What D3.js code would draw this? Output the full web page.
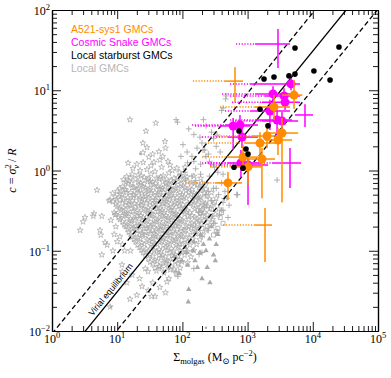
<!DOCTYPE html>
<html>
<head>
<meta charset="utf-8">
<script src="https://cdn.jsdelivr.net/npm/d3@7"></script>
<style>
body { margin: 0; background: #fff; }
svg { display: block; }
.axis path { stroke: #000; stroke-width: 1.2; }
.axis line { stroke: #000; stroke-width: 0.9; }
.serif { font-family: "Liberation Serif", "DejaVu Serif", serif; }
</style>
</head>
<body>
<div id="chart"></div>
<script>
// local GMCs: [sigma_molgas, c]
var localStars = [
  [14,0.84],[17,0.9],[21,0.88],[26,0.82],[33,0.9],[40,0.8],[51,0.86],[62,0.93],[74,0.8],[96,0.87],[118,0.83],
  [12.5,0.77],[15,0.74],[19,0.78],[23,0.7],[29,0.76],[35,0.72],[44,0.79],[56,0.7],[67,0.75],[86,0.72],[104,0.77],[138,0.7],
  [12,0.63],[14.5,0.68],[18,0.62],[22,0.66],[27,0.6],[33,0.67],[42,0.64],[49,0.6],[64,0.66],[79,0.61],[101,0.64],[128,0.6],[168,0.66],
  [10,0.55],[13,0.58],[16,0.53],[20,0.57],[24,0.52],[31,0.56],[38,0.53],[46,0.58],[59,0.54],[71,0.57],[92,0.53],[114,0.56],[152,0.52],[196,0.57],
  [9.3,0.47],[11.8,0.5],[14.5,0.46],[18,0.49],[22.5,0.45],[28,0.48],[35,0.46],[44,0.5],[54,0.45],[66,0.49],[83,0.46],[106,0.47],[134,0.5],[178,0.45],[235,0.48],
  [8.6,0.41],[11,0.43],[13.5,0.4],[17,0.42],[21,0.39],[26,0.43],[32,0.4],[40,0.42],[50,0.39],[62,0.43],[77,0.4],[96,0.42],[124,0.39],[158,0.42],[205,0.4],
  [10,0.36],[12.5,0.34],[15.5,0.37],[19,0.35],[24,0.37],[30,0.34],[37,0.36],[46,0.34],[57,0.37],[70,0.35],[88,0.36],[110,0.34],[145,0.37],[188,0.35],[245,0.36],
  [9,0.3],[11.5,0.32],[14,0.29],[17.5,0.31],[22,0.3],[27,0.32],[34,0.29],[42,0.31],[52,0.3],[65,0.32],[80,0.29],[100,0.31],[130,0.3],[170,0.32],[218,0.3],
  [10.5,0.26],[13,0.28],[16,0.25],[20,0.27],[25,0.26],[31,0.28],[39,0.25],[48,0.27],[60,0.26],[74,0.28],[92,0.25],[120,0.27],[155,0.26],[200,0.27],
  [12,0.23],[15,0.22],[18.5,0.24],[23,0.22],[28,0.235],[35,0.215],[44,0.23],[55,0.22],[68,0.24],[85,0.22],[105,0.23],[140,0.22],[180,0.235],
  [13.5,0.2],[17,0.19],[21,0.205],[26,0.19],[32,0.2],[40,0.185],[50,0.2],[62,0.19],[78,0.205],[96,0.19],[125,0.2],[160,0.19],
  [15,0.17],[19,0.18],[24,0.165],[30,0.175],[37,0.165],[46,0.18],[57,0.17],[71,0.175],[88,0.165],[110,0.18],[145,0.17],
  [17,0.15],[21,0.145],[27,0.155],[34,0.14],[42,0.15],[52,0.145],[65,0.155],[80,0.14],[100,0.15],[130,0.145],
  [19,0.13],[24,0.125],[31,0.132],[38,0.122],[48,0.13],[60,0.124],[74,0.133],[92,0.122],[120,0.128],
  [22,0.11],[28,0.105],[35,0.113],[44,0.104],[55,0.11],[68,0.106],[85,0.112],[110,0.104],
  [25,0.095],[32,0.09],[40,0.097],[50,0.088],[63,0.094],[78,0.089],[98,0.096],
  [30,0.08],[38,0.076],[47,0.082],[58,0.075],[72,0.08],[90,0.077],
  [35,0.068],[44,0.064],[55,0.07],[68,0.063],[85,0.069],
  [40,0.056],[52,0.053],[65,0.058],[80,0.052],
  [16,0.81],[23.5,0.85],[30,0.79],[46,0.83],[57,0.78],[85,0.82],[108,0.79],[150,0.85],[190,0.8],
  [13.5,0.71],[16.5,0.69],[21,0.72],[26,0.68],[32,0.73],[39,0.69],[50,0.72],[61,0.68],[75,0.71],[95,0.68],[120,0.72],[155,0.69],[200,0.7],
  [11,0.6],[13.5,0.57],[17,0.61],[21,0.59],[25,0.62],[30,0.58],[36,0.61],[44,0.59],[54,0.62],[66,0.58],[85,0.6],[108,0.61],[140,0.58],[180,0.61],[230,0.59],
  [8.5,0.52],[11,0.51],[14,0.53],[17.5,0.5],[21.5,0.53],[27,0.51],[33,0.52],[41,0.5],[51,0.53],[63,0.51],[77,0.52],[98,0.5],[125,0.53],[165,0.5],[215,0.52],[280,0.53],
  [9.8,0.44],[12.3,0.45],[15.5,0.43],[19.5,0.46],[24,0.44],[30,0.45],[38,0.43],[47,0.46],[58,0.44],[72,0.45],[90,0.43],[115,0.45],[145,0.44],[190,0.46],[260,0.44],[330,0.45],
  [9.5,0.38],[12,0.39],[14.8,0.375],[18.5,0.385],[23,0.37],[28,0.39],[35,0.38],[43,0.375],[53,0.39],[66,0.38],[82,0.385],[102,0.375],[135,0.39],[172,0.38],[225,0.39],[300,0.38],
  [10.8,0.33],[13.4,0.325],[16.5,0.335],[20.5,0.32],[25.5,0.33],[32,0.325],[40,0.335],[49,0.32],[61,0.33],[75,0.325],[94,0.335],[118,0.32],[155,0.33],[200,0.325],[265,0.335],[360,0.33],
  [9.6,0.285],[12,0.275],[15,0.29],[18.5,0.28],[23,0.275],[29,0.29],[36,0.28],[45,0.285],[56,0.275],[69,0.29],[86,0.28],[108,0.285],[140,0.275],[185,0.29],[240,0.28],[320,0.285],
  [11,0.245],[14,0.25],[17,0.24],[21.5,0.25],[26.5,0.245],[33,0.25],[41,0.24],[51,0.25],[63,0.245],[79,0.25],[98,0.24],[125,0.245],[165,0.25],[215,0.24],[290,0.245],
  [12.8,0.21],[16,0.215],[19.5,0.205],[24.5,0.215],[30,0.21],[37,0.215],[47,0.205],[58,0.215],[72,0.21],[90,0.215],[115,0.205],[150,0.21],[195,0.215],[260,0.21],
  [14.5,0.185],[18,0.19],[22.5,0.18],[28,0.19],[35,0.18],[43,0.19],[54,0.18],[66,0.19],[83,0.185],[104,0.18],[135,0.19],[175,0.185],[230,0.18],
  [16,0.16],[20,0.162],[25,0.158],[32,0.163],[39,0.157],[49,0.162],[61,0.158],[76,0.163],[95,0.157],[120,0.16],[160,0.163],[205,0.158],
  [18,0.138],[22.5,0.14],[29,0.136],[36,0.141],[45,0.137],[56,0.14],[70,0.136],[87,0.141],[110,0.137],[145,0.14],[185,0.137],
  [20.5,0.118],[26,0.12],[33,0.117],[41,0.121],[51,0.117],[64,0.12],[80,0.117],[100,0.121],[130,0.118],[165,0.12],
  [16,0.1],[23.5,0.102],[30,0.099],[37,0.101],[47,0.098],[58,0.102],[73,0.099],[92,0.1],[120,0.098],[150,0.101],
  [27,0.087],[35,0.085],[44,0.088],[55,0.084],[69,0.087],[85,0.085],[108,0.088],[135,0.084],
  [32,0.072],[41,0.074],[51,0.071],[62,0.074],[78,0.072],[98,0.073],[120,0.071],
  [38,0.061],[48,0.06],[60,0.062],[74,0.059],[92,0.061],
  [15.7,4.3],[39,3.9],[27.6,3.1],[54,2.3],[24.8,2.2],[28.6,1.94],[43.6,1.72],[24.8,1.67],[30.6,1.47],[14.7,1.24],
  [20,1.2],[25,1.26],[36.6,1.27],[45,1.35],[17.4,1.06],[22.4,1.0],[28.6,1.03],[38,0.97],[64.5,1.17],[82,1.07],
  [50,1.5],[60,1.3],[70,1.0],[35,1.6],[55,1.9],[90,0.95],[110,1.1],[48,1.1],[33,1.15],
  [4.9,0.57],[7.8,0.43],[5.8,0.27],[9.3,0.28],[4.3,0.27],[3.2,0.26],[2.7,0.18],[3.0,0.23],[4.4,0.29],[5.45,0.18],
  [5.6,0.157],[7.5,0.42],[7.0,0.118],[6.5,0.127],[5.8,0.089],[8.6,0.1],[9.5,0.2],[11,0.15],[8,0.24],[12,0.12],[10,0.13],[13,0.1],[9,0.16],
  [15.7,0.025],[7.8,0.02],[11.8,0.067],[24,0.036],[20,0.028],[33.6,0.027],[38,0.027],[29.6,0.055],[58,0.041],[45,0.064],
  [17,0.05],[14,0.04],[22,0.045],[27,0.06],[12,0.055],[35,0.04],[30,0.032],[45,0.035],[55,0.03],[62,0.045]
];
var localPlus = [
  [80,4.3],[84,4.0],[102,2.1],[118,1.7],[140,1.5],[168,1.9],[186,2.6],[200,2.2],[220,1.8],[250,1.6],
  [150,2.8],[125,3.3],[470,8.5],[460,7.8],[420,6.0],[400,5.6],[210,4.3],[230,3.6],[280,3.0],[300,2.5],
  [330,2.0],[380,1.7],[260,1.3],[310,1.1],[350,0.95],[420,0.9],[700,0.5],[2830,0.76],[190,1.2],[160,1.05],
  [120,1.25],[95,1.5],[110,0.95],[140,0.85],[240,0.7],[300,0.6],[360,0.5],[420,0.4],[300,0.22],[250,0.18],
  [200,0.15],[180,0.09],[150,0.06],[80,0.055],[85,0.048],[230,0.25],[520,0.37],[480,0.45],[316,0.22],[420,0.32],
  [200,0.095],[340,0.17],[207,1.8],[340,2.77],[680,0.5],[400,0.32],
  [160,0.75],[200,0.62],[250,0.55],[180,0.45],[280,0.42],[230,0.5],[330,0.6],[260,0.85],[190,0.9],[400,0.7],
  [450,0.55],[370,0.28],[220,0.35],[290,0.27],[180,0.3],[500,0.26],[440,0.45],[150,1.3],[230,1.5],[280,1.2]
];
var localTri = [
  [125,0.033],[123,0.023],[265,0.04],[300,0.089],[156,0.075],[120,0.066],[98,0.075],[117,0.095],[145,0.1],[186,0.095],
  [230,0.1],[170,0.062],[210,0.12],[260,0.14],[330,0.12],[190,0.16],[150,0.13],[280,0.2],[350,0.16],[90,0.052],
  [240,0.062],[200,0.045],[320,0.075],[110,0.11],[75,0.085]
];
var localSquare = [
  [222,0.37],[300,0.157],[350,0.19],[330,0.175],[260,0.25],[400,0.3],[190,0.3],[240,0.2],[280,0.33],[170,0.22],[420,0.22],
  [380,0.26],[310,0.4],[200,0.19]
];
var localDot = [[22.5,1.62],[8,0.02],[230,0.011]];

// local starburst GMCs
var starburst = [
  [5330,33.6],[25200,34.6],[1785,13.8],[2540,14.6],[4310,15.1],[5330,15.9],[10400,17.4],[18400,13.4],
  [1550,5.8],[2050,3.6],[738,3.1],[945,1.85],[1015,1.6],[618,1.1],[850,1.07]
];

// columns: sigma, c, sigma low (solid), sigma high, sigma low (dotted, null = none), c low, c high
var a521 = [
  [5150,8.7,3370,6900,null,5.9,13.4],
  [2540,6.2,1300,4470,377,4.26,8.7],
  [3370,2.93,2060,5950,null,0.4,4.5],
  [1985,2.69,1170,3370,316,1.91,3.69],
  [1550,2.2,912,2630,222,1.35,3.0],
  [2925,2.4,1850,4800,null,1.56,3.4],
  [850,1.47,500,1445,200,1.01,2.08],
  [1660,1.39,1015,2630,null,0.45,1.91],
  [1015,1.11,641,1660,265,0.66,1.56],
  [500,0.7,316,820,110,0.429,0.96]
];
var a521Open = [
  [641,13.0,450,850,145,7.1,19.4],
  [1850,0.209,1300,2370,420,0.0724,0.341]
];
var snake = [
  [4630,12.0,1090,6360,537,10.0,14.2],
  [2450,9.0,1300,4470,405,6.7,11.2],
  [3620,8.5,1850,6360,537,6.35,10.6],
  [3750,7.1,1660,6360,575,5.67,8.5],
  [2200,5.5,1090,4470,450,3.2,7.6],
  [2830,4.26,1300,4800,537,2.77,5.67],
  [3370,4.14,1660,5950,641,3.2,5.35],
  [764,3.69,450,1445,140,2.4,4.92],
  [600,3.59,377,1090,156,1.8,4.5],
  [820,2.61,500,1445,200,1.91,3.4],
  [790,1.24,500,1660,200,0.81,1.8],
  [1015,1.17,641,2060,265,0.372,1.56]
];
var snakeOpen = [
  [2925,37.7,1300,4470,665,18.9,57.9],
  [7590,4.92,5340,10070,null,3.49,6.7],
  [4470,1.24,2370,6600,222,0.605,1.91]
];

var virialCoef = [3/325, 1/325, 1/975];
var xTicks = [1,10,100,1e3,1e4,1e5];
var xExp = ['0','1','2','3','4','5'];
var yTicks = [1e-2,1e-1,1,10,100];
var yExp = ['\u22122','\u22121','0','1','2'];
var legendLabels = ['A521-sys1 GMCs','Cosmic Snake GMCs','Local starburst GMCs','Local GMCs'];
var legendColors = ['#ff8c00','#ff00ff','#000000','#b5b5b5'];

var orange = '#ff8c00', magenta = '#ff00ff', grey = '#a9a9a9';
var width = 391, height = 378;
var mLeft = 52, mRight = 378, mTop = 10, mBottom = 331;

var svg = d3.select('#chart').append('svg')
    .attr('width', width)
    .attr('height', height);

var x = d3.scaleLog().domain([1,1e5]).range([mLeft,mRight]);
var y = d3.scaleLog().domain([1e-2,1e2]).range([mBottom,mTop]);

svg.append('defs').append('clipPath').attr('id','clip')
    .append('rect').attr('x',mLeft).attr('y',mTop).attr('width',mRight-mLeft).attr('height',mBottom-mTop);

var plot = svg.append('g').attr('clip-path','url(#clip)');

// local GMCs
plot.append('g').selectAll('path').data(localStars).join('path')
    .attr('transform', d => `translate(${x(d[0])},${y(d[1])})`)
    .attr('d', d3.symbol().type(d3.symbolStar).size(11))
    .attr('fill','none')
    .attr('stroke',grey)
    .attr('stroke-width',0.75);

plot.append('g').selectAll('path').data(localPlus).join('path')
    .attr('transform', d => `translate(${x(d[0])},${y(d[1])})`)
    .attr('d','M-3,0H3M0,-3V3')
    .attr('stroke',grey)
    .attr('stroke-width',0.9);

plot.append('g').selectAll('path').data(localTri).join('path')
    .attr('transform', d => `translate(${x(d[0])},${y(d[1])})`)
    .attr('d', d3.symbol().type(d3.symbolTriangle).size(13))
    .attr('fill',grey);

plot.append('g').selectAll('path').data(localSquare).join('path')
    .attr('transform', d => `translate(${x(d[0])},${y(d[1])})`)
    .attr('d', d3.symbol().type(d3.symbolSquare).size(16))
    .attr('fill','none')
    .attr('stroke',grey)
    .attr('stroke-width',0.8);

plot.append('g').selectAll('circle').data(localDot).join('circle')
    .attr('cx', d => x(d[0])).attr('cy', d => y(d[1])).attr('r',1.2)
    .attr('fill',grey);

// virial lines
plot.append('g').selectAll('line').data(virialCoef).join('line')
    .attr('x1', x(1)).attr('y1', k => y(k*1))
    .attr('x2', x(1e5)).attr('y2', k => y(k*1e5))
    .attr('stroke','#000')
    .attr('stroke-width',1.3)
    .attr('stroke-dasharray', (k,i) => i == 1 ? null : '5,3');

var ang = Math.atan2(y(1) - y(0.1), x(10) - x(1)) * 180 / Math.PI;
svg.append('text')
    .attr('transform', `translate(${x(9.5)},${y(9.5*virialCoef[1])})rotate(${ang})`)
    .attr('dy',-3.5)
    .attr('text-anchor','middle')
    .style('font-family','Liberation Sans, sans-serif')
    .style('font-size','8.8px')
    .text('Virial equilibrium');

function errorBars(g, rows, color) {
    g.selectAll('line.dot').data(rows.filter(d => d[4] != null)).join('line')
        .attr('class','dot')
        .attr('x1', d => x(d[4])).attr('x2', d => x(d[2]))
        .attr('y1', d => y(d[1])).attr('y2', d => y(d[1]))
        .attr('stroke',color).attr('stroke-width',1.5)
        .attr('stroke-dasharray','1.2,1.6');
    g.selectAll('line.xe').data(rows).join('line')
        .attr('class','xe')
        .attr('x1', d => x(d[2])).attr('x2', d => x(d[3]))
        .attr('y1', d => y(d[1])).attr('y2', d => y(d[1]))
        .attr('stroke',color).attr('stroke-width',1.5);
    g.selectAll('line.ye').data(rows).join('line')
        .attr('class','ye')
        .attr('x1', d => x(d[0])).attr('x2', d => x(d[0]))
        .attr('y1', d => y(d[5])).attr('y2', d => y(d[6]))
        .attr('stroke',color).attr('stroke-width',1.5);
}

var gSnake = plot.append('g');
errorBars(gSnake.append('g'), snake.concat(snakeOpen), magenta);
gSnake.append('g').selectAll('circle').data(snake).join('circle')
    .attr('cx', d => x(d[0])).attr('cy', d => y(d[1])).attr('r',4.5)
    .attr('fill',magenta);

var gA521 = plot.append('g');
errorBars(gA521.append('g'), a521.concat(a521Open), orange);
gA521.append('g').selectAll('circle').data(a521).join('circle')
    .attr('cx', d => x(d[0])).attr('cy', d => y(d[1])).attr('r',4.5)
    .attr('fill',orange);

plot.append('g').selectAll('circle').data(starburst).join('circle')
    .attr('cx', d => x(d[0])).attr('cy', d => y(d[1])).attr('r',2.8)
    .attr('fill','#000');

// axes, ticks inward on all four sides
function minors(lo, hi) {
    var out = [];
    for (var e = lo; e < hi; e++) for (var m = 2; m < 10; m++) out.push(m * Math.pow(10, e));
    return out;
}
var xMinor = minors(0,5), yMinor = minors(-2,2);

function addAxis(axisFn, scale, major, minor, tr) {
    svg.append('g').attr('class','axis').attr('transform',tr)
        .call(axisFn(scale).tickValues(minor).tickSize(-5).tickSizeOuter(0).tickFormat(''));
    svg.append('g').attr('class','axis').attr('transform',tr)
        .call(axisFn(scale).tickValues(major).tickSize(-9).tickSizeOuter(0).tickFormat(''));
}
addAxis(d3.axisBottom, x, xTicks, xMinor, `translate(0,${mBottom})`);
addAxis(d3.axisTop, x, xTicks, xMinor, `translate(0,${mTop})`);
addAxis(d3.axisLeft, y, yTicks, yMinor, `translate(${mLeft},0)`);
addAxis(d3.axisRight, y, yTicks, yMinor, `translate(${mRight},0)`);

// tick labels
var xl = svg.append('g').selectAll('text').data(xTicks).join('text')
    .attr('class','serif')
    .attr('x', d => x(d)).attr('y', mBottom + 12)
    .attr('text-anchor','middle')
    .style('font-size','12px');
xl.append('tspan').text('10');
xl.append('tspan').attr('dy',-5).style('font-size','8.5px').text((d,i) => xExp[i]);

var yl = svg.append('g').selectAll('text').data(yTicks).join('text')
    .attr('class','serif')
    .attr('x', mLeft - 2).attr('y', d => y(d) + 5)
    .attr('text-anchor','end')
    .style('font-size','12px');
yl.append('tspan').text('10');
yl.append('tspan').attr('dy',-5).style('font-size','8.5px').text((d,i) => yExp[i]);

// axis titles
var xt = svg.append('text').attr('class','serif')
    .attr('x', (mLeft+mRight)/2).attr('y', 361)
    .attr('text-anchor','middle')
    .style('font-size','12px');
xt.append('tspan').text('\u03a3');
xt.append('tspan').attr('dy',3).style('font-size','8.5px').text('molgas');
xt.append('tspan').attr('dy',-3).text(' (M');
xt.append('tspan').attr('dy',3).style('font-size','8.5px').text('\u2299');
xt.append('tspan').attr('dy',-3).text(' pc');
xt.append('tspan').attr('dy',-5).style('font-size','8.5px').text('\u22122');
xt.append('tspan').attr('dy',5).text(')');

var yt = svg.append('text').attr('class','serif')
    .attr('transform', `translate(16,${(mTop+mBottom)/2})rotate(-90)`)
    .attr('text-anchor','middle')
    .style('font-size','12px');
yt.append('tspan').style('font-style','italic').text('c');
yt.append('tspan').text(' = ');
yt.append('tspan').style('font-style','italic').text('\u03c3');
yt.append('tspan').attr('dy',-5).style('font-size','8.5px').text('2');
yt.append('tspan').attr('dx',-4.5).attr('dy',8).style('font-size','8.5px').style('font-style','italic').text('v');
yt.append('tspan').attr('dy',-3).text(' / ');
yt.append('tspan').style('font-style','italic').text('R');

// legend (text only)
svg.append('g').selectAll('text').data(legendLabels).join('text')
    .attr('x', 71).attr('y', (d,i) => 33 + i*13)
    .attr('fill', (d,i) => legendColors[i])
    .style('font-family','Liberation Sans, sans-serif')
    .style('font-size','10.5px')
    .text(d => d);
</script>
</body>
</html>
